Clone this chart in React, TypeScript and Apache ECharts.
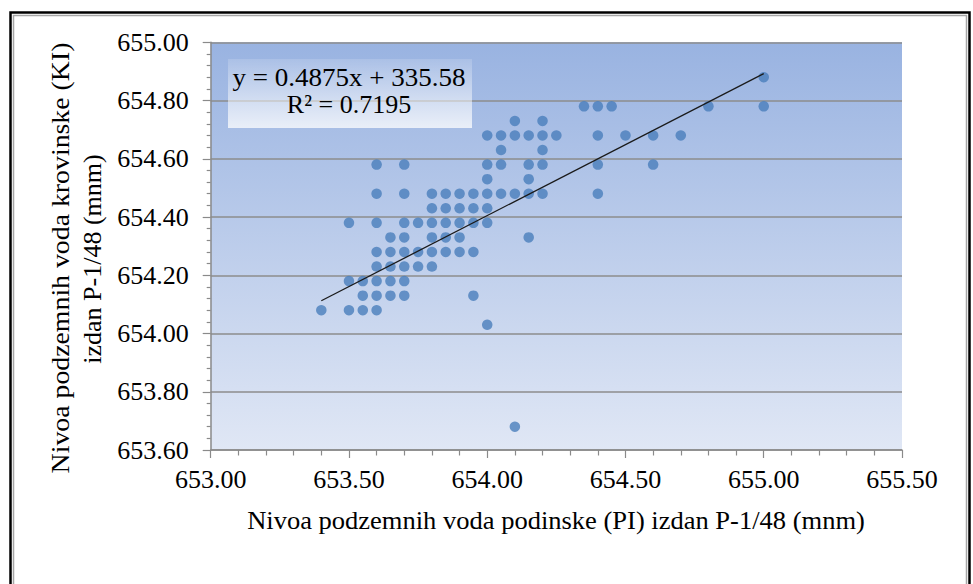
import React, { useEffect, useRef } from "react";
import * as echarts from "echarts";

// Krovinske (KI) levels (y) and the podinske (PI) levels (x) observed at each
const krovinskeLevels = [
  654.88, 654.78, 654.73, 654.68, 654.63, 654.58, 654.53, 654.48, 654.43,
  654.38, 654.33, 654.28, 654.23, 654.18, 654.13, 654.08, 654.03, 653.68,
];
const podinskeAtLevel = [
  [655.0],
  [654.35, 654.4, 654.45, 654.8, 655.0],
  [654.1, 654.2],
  [654.0, 654.05, 654.1, 654.15, 654.2, 654.25, 654.4, 654.5, 654.6, 654.7],
  [654.05, 654.2],
  [653.6, 653.7, 654.0, 654.05, 654.15, 654.2, 654.4, 654.6],
  [654.0, 654.15],
  [653.6, 653.7, 653.8, 653.85, 653.9, 653.95, 654.0, 654.05, 654.1, 654.15, 654.2, 654.4],
  [653.8, 653.85, 653.9, 653.95, 654.0],
  [653.5, 653.6, 653.7, 653.75, 653.8, 653.85, 653.9, 653.95, 654.0],
  [653.65, 653.7, 653.8, 653.85, 653.9, 654.15],
  [653.6, 653.65, 653.7, 653.75, 653.8, 653.85, 653.9, 653.95],
  [653.6, 653.65, 653.7, 653.75, 653.8],
  [653.5, 653.55, 653.6, 653.65, 653.7],
  [653.55, 653.6, 653.65, 653.7, 653.95],
  [653.4, 653.5, 653.55, 653.6],
  [654.0],
  [654.1],
];

// Linear trend from the chart's equation
const trendSlope = 0.4875;
const trendIntercept = 335.58;
const trendXRange = [653.4, 655.0];
const equationText = "y = 0.4875x + 335.58";
const r2Text = "R\u00B2 = 0.7195";

const xTitle = "Nivoa podzemnih voda podinske (PI) izdan P-1/48 (mnm)";
const yTitleLines = ["Nivoa podzemnih voda krovinske (KI)", "izdan P-1/48 (mnm)"];

const FONT = "Liberation Serif";

export default function App() {
  const ref = useRef<HTMLDivElement>(null);

  useEffect(() => {
    if (!ref.current) return;
    const chart = echarts.init(ref.current, null, { renderer: "svg" });

    const points: number[][] = [];
    krovinskeLevels.forEach((yv, i) => {
      podinskeAtLevel[i].forEach((xv) => points.push([xv, yv]));
    });
    const trend = trendXRange.map((xv) => [xv, trendSlope * xv + trendIntercept]);

    const axisGray = "#8a8a8a";
    const textStyle = (text: string) => ({
      text,
      fontFamily: FONT,
      fontSize: 26,
      fill: "#000",
      align: "center",
      verticalAlign: "middle",
    });

    chart.setOption({
      animation: false,
      backgroundColor: "#ffffff",
      textStyle: { fontFamily: FONT },
      grid: {
        left: 210.7,
        right: 71,
        top: 42.3,
        bottom: 134,
        show: true,
        borderWidth: 0,
        backgroundColor: {
          type: "linear",
          x: 0,
          y: 0,
          x2: 0,
          y2: 1,
          colorStops: [
            { offset: 0, color: "#99b3e1" },
            { offset: 1, color: "#e0e7f5" },
          ],
        },
      },
      xAxis: {
        type: "value",
        min: 653,
        max: 655.5,
        interval: 0.5,
        axisLine: { show: true, onZero: false, lineStyle: { color: axisGray, width: 1.5 } },
        axisTick: { show: true, length: 8, lineStyle: { color: axisGray, width: 1.2 } },
        minorTick: { show: true, splitNumber: 5, length: 5.5, lineStyle: { color: axisGray, width: 1.2 } },
        splitLine: { show: false },
        axisLabel: {
          formatter: (v: number) => v.toFixed(2),
          fontFamily: FONT,
          fontSize: 26,
          color: "#000",
          margin: 16,
        },
      },
      yAxis: {
        type: "value",
        min: 653.6,
        max: 655,
        interval: 0.2,
        axisLine: { show: true, onZero: false, lineStyle: { color: axisGray, width: 1.5 } },
        axisTick: { show: true, length: 8, lineStyle: { color: axisGray, width: 1.2 } },
        minorTick: { show: true, splitNumber: 5, length: 4, lineStyle: { color: axisGray, width: 1.2 } },
        splitLine: { show: true, lineStyle: { color: "#8c8c8c", width: 1.6 } },
        axisLabel: {
          formatter: (v: number) => v.toFixed(2),
          fontFamily: FONT,
          fontSize: 26,
          color: "#000",
          margin: 22,
        },
      },
      series: [
        {
          type: "scatter",
          data: points,
          symbol: "circle",
          symbolSize: 10.5,
          itemStyle: { color: "#4a7ebb" },
          z: 3,
        },
        {
          type: "line",
          data: trend,
          showSymbol: false,
          symbol: "none",
          lineStyle: { color: "#1a1a1a", width: 1.3 },
          z: 4,
        },
      ],
      graphic: [
        {
          type: "rect",
          z: 10,
          shape: { x: 228, y: 59, width: 244, height: 69 },
          style: {
            fill: {
              type: "linear",
              x: 0,
              y: 0,
              x2: 0,
              y2: 1,
              colorStops: [
                { offset: 0, color: "rgba(255,255,255,0.15)" },
                { offset: 1, color: "rgba(255,255,255,0.75)" },
              ],
            },
          },
        },
        { type: "text", z: 11, x: 349, y: 77, scaleX: 1.04, style: textStyle(equationText) },
        { type: "text", z: 11, x: 349, y: 104, style: textStyle(r2Text) },
        { type: "text", z: 11, x: 556, y: 521, scaleX: 1.02, style: textStyle(xTitle) },
        {
          type: "text",
          z: 11,
          x: 60,
          y: 258,
          rotation: Math.PI / 2,
          scaleX: 1.07,
          style: textStyle(yTitleLines[0]),
        },
        {
          type: "text",
          z: 11,
          x: 92,
          y: 259,
          rotation: Math.PI / 2,
          style: textStyle(yTitleLines[1]),
        },
        {
          type: "rect",
          z: 20,
          shape: { x: 13.5, y: 15.5, width: 953, height: 700 },
          style: { fill: "none", stroke: "#a6a6a6", lineWidth: 1.5 },
        },
        {
          type: "rect",
          z: 21,
          shape: { x: 10.5, y: 12.5, width: 959, height: 700 },
          style: { fill: "none", stroke: "#000", lineWidth: 2.5 },
        },
      ],
    });

    return () => chart.dispose();
  }, []);

  return (
    <div
      ref={ref}
      style={{ position: "absolute", left: 0, top: 0, width: 973, height: 584, background: "#fff" }}
    />
  );
}
